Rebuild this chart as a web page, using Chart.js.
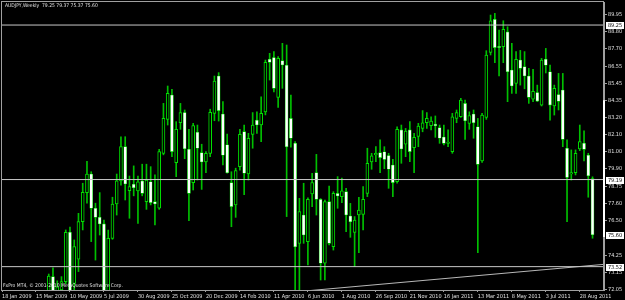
<!DOCTYPE html>
<html>
<head>
<meta charset="utf-8">
<script src="https://cdn.jsdelivr.net/npm/chart.js@4.4.0/dist/chart.umd.min.js"></script>
<style>
  html, body { margin: 0; padding: 0; background: #000; }
  #wrap { width: 625px; height: 300px; }
</style>
</head>
<body>
<div id="wrap"><canvas id="chart"></canvas></div>
<script>
// Weekly candles, bar index 0 = week of 18 Jan 2009 (earlier bars sit below the view)
const firstBar = 11;
const opens = [
    71.90, 72.87, 71.50, 72.00, 72.55, 75.76, 72.43, 74.00, 76.45, 78.34,
    79.55, 77.32, 76.73, 76.30, 71.95, 75.35, 77.60, 79.10, 81.33, 78.47,
    78.88, 78.45, 79.10, 77.75, 79.05, 77.75, 77.32, 80.90, 83.10, 84.69,
    80.29, 82.90, 83.55, 81.16, 78.99, 82.27, 80.94, 80.34, 80.90, 83.50,
    85.93, 83.46, 81.45, 78.99, 77.54, 80.03, 82.31, 79.55, 82.13, 83.06,
    82.74, 83.60, 87.02, 87.13, 84.54, 86.93, 86.63, 83.17, 81.55, 75.04,
    76.88, 75.15, 78.25, 79.64, 77.90, 73.74, 77.75, 74.82, 78.29, 78.08,
    78.40, 76.82, 75.75, 76.88, 76.92, 78.29, 80.34, 80.79, 80.94, 81.00,
    80.75, 80.14, 79.05, 82.42, 81.50, 82.42, 81.27, 82.00, 82.52, 82.89,
    82.70, 82.80, 82.57, 81.96, 81.55, 81.01, 83.17, 83.28, 84.15, 82.85,
    83.46, 82.63, 80.40, 83.24, 87.47, 89.62, 87.84, 87.84, 88.80, 86.32,
    85.45, 86.97, 86.54, 85.93, 84.43, 84.86, 84.04, 87.02, 86.21, 83.98,
    84.73, 85.02, 81.23, 79.55, 79.64, 81.18, 81.55, 80.77, 79.25
];
const highs = [
    73.04, 73.45, 72.60, 72.87, 75.91, 76.10, 75.26, 76.99, 78.95, 80.38,
    79.70, 77.65, 78.34, 76.56, 75.90, 78.04, 79.55, 81.98, 81.98, 79.42,
    80.08, 79.42, 80.19, 80.19, 80.03, 79.49, 81.16, 84.15, 85.28, 85.06,
    82.96, 84.15, 83.72, 82.46, 82.85, 82.74, 81.49, 81.01, 83.77, 85.93,
    86.15, 84.26, 82.15, 79.70, 79.93, 82.46, 82.74, 82.20, 83.55, 83.60,
    84.58, 86.97, 87.41, 87.52, 87.19, 88.06, 87.95, 84.69, 81.66, 77.97,
    78.95, 78.00, 79.60, 80.83, 77.95, 77.86, 78.77, 78.40, 79.38, 79.29,
    78.62, 77.64, 76.78, 78.04, 78.73, 81.23, 80.90, 81.33, 81.77, 81.33,
    80.90, 80.50, 82.63, 82.74, 82.52, 82.96, 82.20, 82.85, 83.68, 83.55,
    83.28, 83.33, 82.74, 82.74, 82.42, 83.50, 83.72, 84.48, 84.37, 83.60,
    83.72, 83.17, 83.50, 87.58, 89.90, 90.01, 88.93, 89.53, 89.14, 88.06,
    87.52, 87.60, 87.52, 86.43, 86.37, 85.34, 87.08, 87.73, 86.65, 85.34,
    86.10, 86.10, 81.77, 81.12, 81.12, 82.74, 82.37, 80.90, 79.37
];
const lows = [
    71.50, 71.00, 71.20, 71.60, 72.40, 71.50, 72.00, 73.20, 75.91, 77.65,
    75.15, 73.95, 75.58, 71.30, 71.40, 75.30, 76.88, 78.83, 77.86, 76.67,
    78.13, 76.34, 78.13, 77.25, 77.54, 76.23, 77.25, 80.80, 82.74, 80.68,
    79.38, 82.46, 80.55, 76.51, 78.51, 79.16, 78.55, 79.64, 80.68, 83.02,
    83.00, 80.14, 79.60, 76.12, 76.73, 79.80, 78.20, 79.16, 81.23, 82.20,
    81.66, 83.40, 85.67, 84.90, 83.89, 85.13, 76.78, 81.30, 71.50, 71.70,
    75.04, 73.63, 77.43, 76.88, 72.65, 72.65, 74.93, 74.60, 77.32, 77.69,
    75.80, 75.43, 73.52, 74.43, 75.91, 78.08, 79.86, 80.36, 79.64, 79.90,
    78.62, 78.08, 78.95, 80.25, 80.68, 80.36, 79.64, 81.33, 82.30, 82.52,
    82.42, 81.94, 81.55, 81.44, 81.33, 80.90, 82.89, 83.24, 81.81, 82.46,
    81.88, 74.43, 80.30, 83.11, 87.30, 86.80, 85.93, 86.80, 84.26, 84.80,
    84.80, 85.34, 85.10, 84.15, 84.26, 84.26, 83.98, 86.13, 83.06, 83.39,
    83.72, 81.33, 76.45, 79.16, 79.49, 81.07, 80.40, 78.04, 75.37
];
const closes = [
    72.91, 71.80, 72.20, 72.55, 75.76, 71.90, 74.82, 76.45, 78.36, 79.55,
    77.32, 76.73, 76.30, 71.90, 75.37, 77.60, 79.10, 81.33, 78.90, 78.73,
    78.66, 79.05, 78.29, 79.16, 77.69, 77.60, 81.01, 83.17, 84.80, 81.01,
    82.46, 83.55, 81.20, 78.29, 82.70, 81.23, 80.34, 80.90, 83.57, 85.60,
    83.68, 80.77, 79.64, 77.43, 79.77, 82.13, 79.60, 81.88, 82.74, 82.74,
    83.51, 86.82, 86.82, 85.13, 87.08, 86.65, 81.33, 81.88, 74.82, 77.10,
    75.58, 77.90, 79.00, 77.90, 73.74, 77.75, 75.04, 78.29, 78.12, 78.45,
    76.88, 76.45, 76.56, 77.21, 77.90, 80.25, 80.73, 80.90, 80.62, 80.50,
    79.86, 78.99, 82.46, 81.18, 82.35, 81.01, 81.94, 82.68, 82.89, 83.17,
    83.00, 82.70, 81.88, 81.55, 81.62, 83.28, 83.55, 84.37, 83.02, 83.35,
    82.89, 80.18, 83.39, 87.30, 89.53, 87.78, 87.78, 88.97, 86.21, 85.28,
    87.02, 86.43, 85.93, 84.54, 84.93, 84.30, 86.97, 86.63, 84.04, 85.13,
    84.28, 81.81, 79.33, 79.64, 80.90, 81.66, 81.16, 79.44, 75.60
];

// right-hand price scale labels
const priceTicks = [89.95, 88.80, 87.70, 86.55, 85.45, 84.35, 83.20, 82.10, 81.00,
    79.90, 78.75, 77.60, 76.50, 74.25, 73.15, 72.05];

// bottom date labels at bar indexes
const dateTicks = [0, 8, 16, 24, 32, 40, 48, 56, 64, 72, 80, 88, 96, 104, 112, 120, 128, 136];
const dateLabels = ['18 Jan 2009', '15 Mar 2009', '10 May 2009', '5 Jul 2009', '30 Aug 2009',
    '25 Oct 2009', '20 Dec 2009', '14 Feb 2010', '11 Apr 2010', '6 Jun 2010', '1 Aug 2010',
    '26 Sep 2010', '21 Nov 2010', '16 Jan 2011', '13 Mar 2011', '8 May 2011', '3 Jul 2011',
    '28 Aug 2011'];

// drawn objects: horizontal lines and one trend line
const hLines = [89.25, 79.19, 73.52];
const trendX = [71.96, 141.7];
const trendY = [71.95, 73.67];

// boxed labels on the price scale
const boxValues = [89.25, 79.19, 75.60, 73.52];
const boxTexts = ['89.25', '79.19', '75.60', '73.52'];

const titleText = 'AUDJPY,Weekly  79.25 79.37 75.37 75.60';
const copyText = 'FxPro MT4, \u00a9 2001-2010 MetaQuotes Software Corp.';

const xMin = 0, xMax = 141.7;
const yMin = 72.0, yMax = 90.75;

const FONT = "'Liberation Sans Narrow', 'DejaVu Sans Condensed', sans-serif";
const AXIS_GREY = '#a0a0a0';

// build candle pieces
const wickData = [];
const bodyData = [];
const isBear = [];
opens.forEach((o, k) => {
    const x = firstBar + k;
    const c = closes[k];
    wickData.push({ x: x, y: [lows[k], highs[k]] });
    bodyData.push({ x: x, y: [Math.min(o, c), Math.max(o, c)] });
    isBear.push(c < o);
});

const lineSets = hLines.map(v => ({
    type: 'line',
    data: [{ x: xMin, y: v }, { x: xMax, y: v }],
    borderColor: '#c8c8c8',
    borderWidth: 1,
    pointRadius: 0,
    order: 0
}));

const mtDecor = {
    id: 'mtDecor',
    beforeDraw(chart) {
        const ctx = chart.ctx;
        ctx.save();
        ctx.fillStyle = '#000';
        ctx.fillRect(0, 0, chart.width, chart.height);
        ctx.restore();
    },
    afterDraw(chart) {
        const { ctx, chartArea: a, scales } = chart;
        const y = scales.y;
        ctx.save();
        // frame
        ctx.strokeStyle = AXIS_GREY;
        ctx.lineWidth = 1;
        ctx.strokeRect(a.left - 0.5, a.top - 0.5, a.right - a.left, a.bottom - a.top + 1);

        // white segment on the price axis
        ctx.strokeStyle = '#ffffff';
        ctx.lineWidth = 2;
        ctx.beginPath();
        ctx.moveTo(a.right, y.getPixelForValue(84.35));
        ctx.lineTo(a.right, y.getPixelForValue(75.45));
        ctx.stroke();

        // boxed price labels
        ctx.font = '5.5px ' + FONT;
        ctx.textAlign = 'center';
        ctx.textBaseline = 'middle';
        boxValues.forEach((v, k) => {
            const py = Math.round(y.getPixelForValue(v));
            ctx.fillStyle = '#ffffff';
            ctx.fillRect(a.right + 2, py - 3, 18, 7);
            ctx.fillStyle = '#000000';
            ctx.fillText(boxTexts[k], a.right + 11, py + 0.5);
        });

        // title and copyright
        ctx.fillStyle = '#e0e0e0';
        ctx.textAlign = 'left';
        ctx.font = '5px ' + FONT;
        ctx.fillText(titleText, 5, 6);
        ctx.fillText(copyText, 3, 286);
        ctx.restore();
    }
};

new Chart(document.getElementById('chart'), {
    type: 'bar',
    data: {
        datasets: [
            ...lineSets,
            {
                type: 'line',
                data: [{ x: trendX[0], y: trendY[0] }, { x: trendX[1], y: trendY[1] }],
                borderColor: '#b8b8b8',
                borderWidth: 1,
                pointRadius: 0,
                order: 0
            },
            {
                data: bodyData,
                grouped: false,
                barThickness: 3,
                minBarLength: 1.2,
                borderSkipped: false,
                backgroundColor: ctx => isBear[ctx.dataIndex] ? '#ffffff' : '#000000',
                borderColor: '#00e000',
                borderWidth: ctx => isBear[ctx.dataIndex] ? 0.6 : 1,
                order: 1
            },
            {
                data: wickData,
                grouped: false,
                barThickness: 1,
                backgroundColor: '#00c000',
                borderWidth: 0,
                order: 2
            }
        ]
    },
    options: {
        responsive: true,
        maintainAspectRatio: false,
        animation: false,
        events: [],
        layout: { padding: { left: 2, top: 2, right: 0, bottom: 0 } },
        plugins: {
            legend: { display: false },
            tooltip: { enabled: false }
        },
        scales: {
            x: {
                type: 'linear',
                min: xMin,
                max: xMax,
                offset: false,
                grid: {
                    offset: false,
                    drawOnChartArea: false,
                    drawTicks: true,
                    tickLength: 2,
                    color: AXIS_GREY
                },
                border: { display: true, color: AXIS_GREY },
                afterBuildTicks: scale => {
                    scale.ticks = dateTicks.map(v => ({ value: v }));
                },
                afterFit: scale => {
                    scale.height = 10;
                    scale.paddingLeft = 0;
                    scale.paddingRight = 0;
                },
                ticks: {
                    autoSkip: false,
                    maxRotation: 0,
                    minRotation: 0,
                    align: 'start',
                    padding: 1,
                    color: '#e0e0e0',
                    font: { family: FONT, size: 5.5 },
                    callback: v => dateLabels[dateTicks.indexOf(v)]
                }
            },
            y: {
                position: 'right',
                min: yMin,
                max: yMax,
                grid: {
                    drawOnChartArea: false,
                    drawTicks: true,
                    tickLength: 3,
                    color: AXIS_GREY
                },
                border: { display: true, color: AXIS_GREY },
                afterBuildTicks: scale => {
                    scale.ticks = priceTicks.map(v => ({ value: v }));
                },
                afterFit: scale => {
                    scale.width = 21;
                    scale.paddingTop = 0;
                    scale.paddingBottom = 0;
                },
                ticks: {
                    autoSkip: false,
                    padding: 1,
                    color: '#e0e0e0',
                    font: { family: FONT, size: 5.5 },
                    callback: v => v.toFixed(2)
                }
            }
        }
    },
    plugins: [mtDecor]
});
</script>
</body>
</html>
